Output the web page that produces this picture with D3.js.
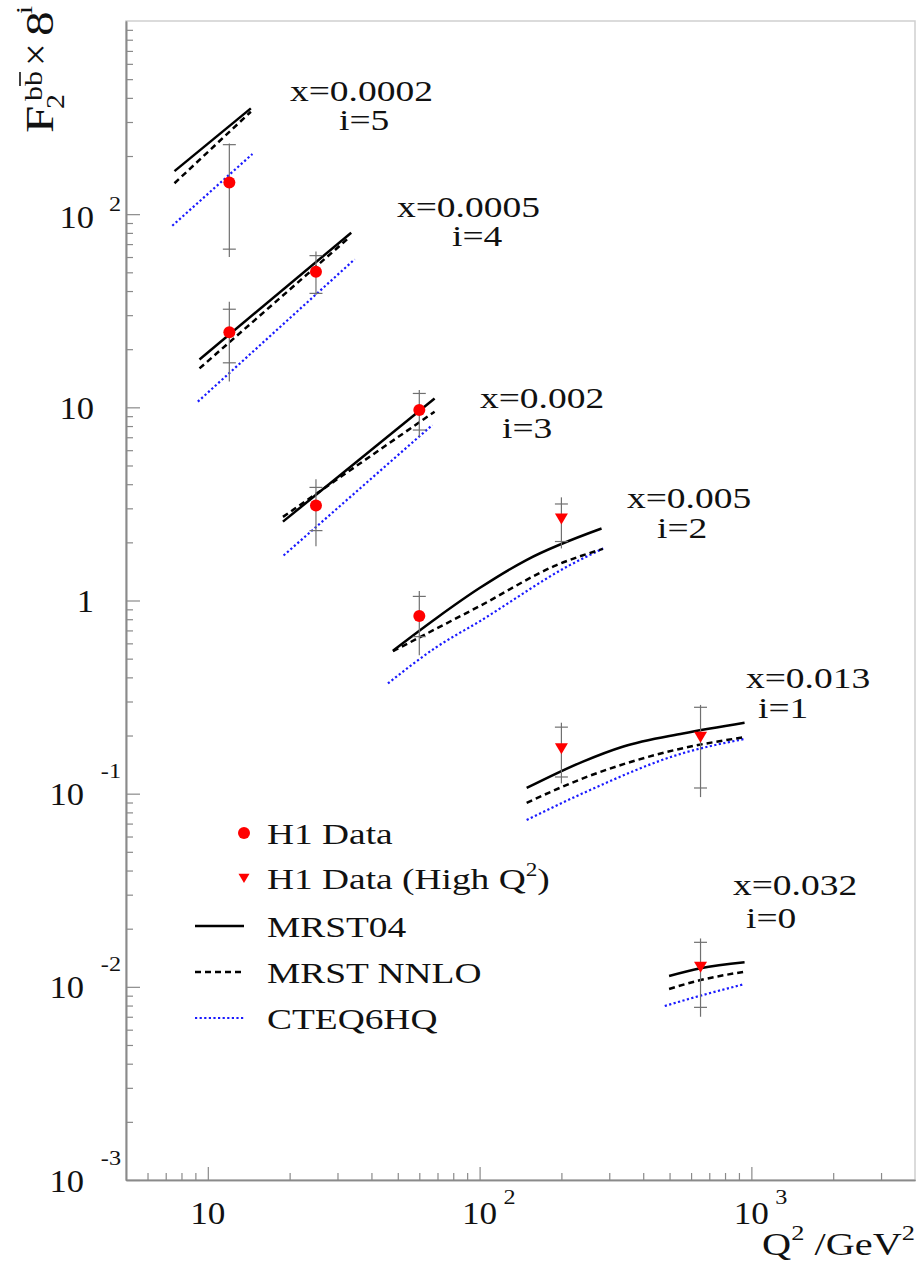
<!DOCTYPE html>
<html>
<head>
<meta charset="utf-8">
<script src="https://cdn.jsdelivr.net/npm/d3@7"></script>
<style>
  body { margin: 0; background: #fff; }
  svg text { font-family: "Liberation Serif", "Times New Roman", serif; fill: #111; }
</style>
</head>
<body>
<svg id="chart" width="921" height="1263"></svg>
<script>
// ---- data (F2bb x 8^i vs Q^2) ----
const binX = ["0.0002", "0.0005", "0.002", "0.005", "0.013", "0.032"];
const binI = [5, 4, 3, 2, 1, 0];

// H1 data (circles)
const h1Q2     = [12, 12, 25, 25, 60, 60];
const h1Val    = [146, 24.5, 50.4, 3.10, 9.69, 0.832];
const h1StatHi = [229, 32.2, 61, 3.85, 11.8, 1.05];
const h1StatLo = [65.9, 17.0, 38.9, 2.30, 7.63, 0.65];
const h1TotHi  = [232, 35.2, 64, 4.24, 12.3, 1.12];
const h1TotLo  = [60, 13.6, 38.1, 1.91, 7.04, 0.52];

// H1 data, high Q^2 (triangles)
const hiQ2     = [200, 200, 650, 650];
const hiVal    = [2.66, 0.172, 0.197, 0.0127];
const hiStatHi = [3.16, 0.221, 0.280, 0.0170];
const hiStatLo = [2.02, 0.122, 0.107, 0.00783];
const hiTotHi  = [3.42, 0.233, 0.288, 0.0178];
const hiTotLo  = [1.86, 0.113, 0.096, 0.0070];

// theory curves, one [Q2, value] list per x bin (i = 5..0)
const mrst04 = [
    [[7.54, 167], [14.4, 353]],
    [[9.32, 17.7], [33.7, 80.2]],
    [[18.9, 2.56], [68.3, 11.1]],
    [[48, 0.550], [69.3, 0.81], [100, 1.16], [148.6, 1.62], [281, 2.36]],
    [[149, 0.107], [240, 0.1466], [336, 0.175], [560, 0.205], [944, 0.233]],
    [[498, 0.01137], [650, 0.01247], [944, 0.01339]]
];
const mrstNnlo = [
    [[7.54, 144.5], [14.4, 339]],
    [[9.32, 15.9], [33.2, 75.9]],
    [[18.9, 2.71], [68.3, 9.49]],
    [[48, 0.546], [69.3, 0.715], [100, 0.935], [191, 1.52], [284, 1.85]],
    [[149, 0.0897], [240, 0.120], [560, 0.172], [944, 0.196]],
    [[498, 0.00975], [650, 0.01084], [944, 0.01197]]
];
const cteq6hq = [
    [[7.4, 87.1], [14.6, 205]],
    [[9.19, 10.7], [34.7, 58.4]],
    [[19.0, 1.71], [67, 8.10]],
    [[46, 0.372], [69.3, 0.573], [100, 0.78], [214, 1.52], [285, 1.86]],
    [[149, 0.0731], [240, 0.1005], [560, 0.162], [944, 0.192]],
    [[480, 0.00796], [650, 0.0090], [935, 0.0103]]
];

// tick labels
const yTickVals = [100, 10, 1, 0.1, 0.01, 0.001];
const yTickBase = ["10", "10", "1", "10", "10", "10"];
const yTickExp  = ["2", "", "", "-1", "-2", "-3"];
const xTickVals = [10, 100, 1000];
const xTickExp  = ["", "2", "3"];

const legendLabels = ["H1 Data", "H1 Data (High Q^{2})", "MRST04", "MRST NNLO", "CTEQ6HQ"];

// ---- layout ----
const W = 921, H = 1263;
const L = 126, R = 915, T = 21, B = 1180;
const svg = d3.select("#chart");

const x = d3.scaleLog().domain([5, 4000]).range([L, R]);
const y = d3.scaleLog().domain([1e-3, 1e3]).range([B, T]);

svg.append("rect").attr("width", W).attr("height", H).attr("fill", "#fff");

// text helper: the original uses a wide serif, so stretch horizontally
function stext(sel, px, py, size, sx, anchor) {
    return sel.append("text")
        .attr("transform", `translate(${px},${py}) scale(${sx},1)`)
        .attr("text-anchor", anchor || "start")
        .style("font-size", size + "px");
}
// "a^{b}" -> tspans with raised superscripts
function rich(t, str, supSize, rise) {
    const parts = str.split(/\^\{([^}]*)\}/);
    let raised = false;
    parts.forEach((p, i) => {
        if (p === "") return;
        const sup = i % 2 === 1;
        const ts = t.append("tspan").text(p);
        if (sup) {
            ts.attr("dy", -rise).style("font-size", supSize + "px");
            raised = true;
        } else if (raised) {
            ts.attr("dy", rise);
            raised = false;
        }
    });
    return t;
}

// frame
svg.append("rect")
    .attr("x", L).attr("y", T).attr("width", R - L).attr("height", B - T)
    .attr("fill", "none").attr("stroke", "#cfcfcf").attr("stroke-width", 1.5);

function minors(lo, hi) {
    const out = [];
    for (let d = 1e-3; d < 1e4; d *= 10)
        for (let k = 2; k < 10; k++) {
            const v = k * d;
            if (v > lo * 1.001 && v < hi * 0.999) out.push(v);
        }
    return out;
}

// axes (ticks point inward)
const yMajor = [1e-3, 1e-2, 1e-1, 1, 10, 100];
const yAxisG = svg.append("g").attr("transform", `translate(${L},0)`);
yAxisG.append("g").call(d3.axisLeft(y).tickValues(yMajor).tickSize(-14).tickSizeOuter(0).tickFormat(""));
yAxisG.append("g").call(d3.axisLeft(y).tickValues(minors(1e-3, 1e3)).tickSize(-7).tickSizeOuter(0).tickFormat(""));

const xMajor = [10, 100, 1000];
const xAxisG = svg.append("g").attr("transform", `translate(0,${B})`);
xAxisG.append("g").call(d3.axisBottom(x).tickValues(xMajor).tickSize(-13).tickSizeOuter(0).tickFormat(""));
xAxisG.append("g").call(d3.axisBottom(x).tickValues(minors(5, 4000)).tickSize(-7).tickSizeOuter(0).tickFormat(""));

svg.selectAll(".domain").attr("stroke", "#8a8a8a").attr("stroke-width", 1.6);
svg.selectAll(".tick line").attr("stroke", "#8a8a8a").attr("stroke-width", 1.2);

// y tick labels
yTickVals.forEach((v, i) => {
    const neg = yTickExp[i].startsWith("-");
    const yy = y(v);
    if (yTickExp[i]) {
        stext(svg, 121, yy + (neg ? -15.5 : -3.5), 22, 1.1, "end").text(yTickExp[i]);
        stext(svg, neg ? 84 : 94, yy + (neg ? 11.5 : 13.5), 32, 1.08, "end").text(yTickBase[i]);
    } else {
        stext(svg, 94, yy + 11.5, 32, 1.08, "end").text(yTickBase[i]);
    }
});

// x tick labels
xTickVals.forEach((v, i) => {
    stext(svg, x(v), 1224, 32, 1.1, "middle").text("10");
    if (xTickExp[i])
        stext(svg, x(v) + 24, 1204, 22, 1.1, "start").text(xTickExp[i]);
});

// axis titles
rich(stext(svg, 915, 1255, 32, 1.26, "end"), "Q^{2} /GeV^{2}", 21, 15);

const yt = svg.append("g").attr("transform", "translate(53,133) rotate(-90)");
stext(yt, 0, 0, 41, 1.2).text("F");
stext(yt, 24, 11, 25, 1.2).text("2");
stext(yt, 32, -11, 25, 1.2).text("bb");
yt.append("line").attr("x1", 47).attr("x2", 61).attr("y1", -33).attr("y2", -33)
    .attr("stroke", "#111").attr("stroke-width", 1.6);
stext(yt, 67, -4, 40, 1.0).text("\u00d7");
stext(yt, 97, 0, 41, 1.2).text("8");
stext(yt, 119, -21, 24, 1.2).text("i");

// theory curves
const line = d3.line()
    .x(d => x(d[0]))
    .y(d => y(d[1]))
    .curve(d3.curveMonotoneX);

const models = [
    { curves: cteq6hq, color: "#1a1aff", width: 2.2, dash: "2.2,2.4" },
    { curves: mrstNnlo, color: "#000", width: 2.5, dash: "6,4" },
    { curves: mrst04, color: "#000", width: 2.5, dash: null }
];
models.forEach(m => {
    svg.append("g").selectAll("path")
        .data(m.curves)
        .join("path")
        .attr("d", line)
        .attr("fill", "none")
        .attr("stroke", m.color)
        .attr("stroke-width", m.width)
        .attr("stroke-dasharray", m.dash);
});

// error bars: full line = total, ticks = statistical
function errorBars(q2, statLo, statHi, totLo, totHi) {
    const g = svg.append("g").attr("stroke", "#707070").attr("stroke-width", 1.2);
    q2.forEach((q, i) => {
        const cx = x(q);
        g.append("line").attr("x1", cx).attr("x2", cx).attr("y1", y(totLo[i])).attr("y2", y(totHi[i]));
        [statLo[i], statHi[i]].forEach(s =>
            g.append("line").attr("x1", cx - 6.5).attr("x2", cx + 6.5).attr("y1", y(s)).attr("y2", y(s)));
    });
}
errorBars(h1Q2, h1StatLo, h1StatHi, h1TotLo, h1TotHi);
errorBars(hiQ2, hiStatLo, hiStatHi, hiTotLo, hiTotHi);

const triDown = "M-6.5,-5L6.5,-5L0,6Z";

svg.append("g").selectAll("circle")
    .data(h1Q2.map((q, i) => [q, h1Val[i]]))
    .join("circle")
    .attr("cx", d => x(d[0])).attr("cy", d => y(d[1]))
    .attr("r", 6).attr("fill", "#ff0000");

svg.append("g").selectAll("path")
    .data(hiQ2.map((q, i) => [q, hiVal[i]]))
    .join("path")
    .attr("transform", d => `translate(${x(d[0])},${y(d[1])})`)
    .attr("d", triDown).attr("fill", "#ff0000");

// bin annotations (pixel layout of the text blocks)
const annot = [
    { tx: 290, ty: 101, ix: 339, iy: 130 },
    { tx: 397, ty: 217, ix: 452, iy: 246 },
    { tx: 480, ty: 408, ix: 502, iy: 438 },
    { tx: 627, ty: 508, ix: 657, iy: 538 },
    { tx: 746, ty: 688, ix: 758, iy: 718 },
    { tx: 733, ty: 895, ix: 746, iy: 928 }
];
binX.forEach((bx, k) => {
    const a = annot[k];
    stext(svg, a.tx, a.ty, 30, 1.25).text("x=" + bx);
    stext(svg, a.ix, a.iy, 30, 1.25).text("i=" + binI[k]);
});

// legend
const legY = [833, 878, 926, 972, 1018];
const lg = svg.append("g");
lg.append("circle").attr("cx", 244).attr("cy", legY[0]).attr("r", 6).attr("fill", "#ff0000");
lg.append("path").attr("transform", `translate(244,${legY[1]}) scale(0.85)`).attr("d", triDown).attr("fill", "#ff0000");
models.slice().reverse().forEach((m, k) => {
    lg.append("line")
        .attr("x1", 195).attr("x2", 244)
        .attr("y1", legY[k + 2]).attr("y2", legY[k + 2])
        .attr("stroke", m.color).attr("stroke-width", m.width)
        .attr("stroke-dasharray", m.dash);
});
legendLabels.forEach((lab, k) => {
    rich(stext(lg, 267, legY[k] + 10.5, 29, 1.29), lab, 18, 13);
});
</script>
</body>
</html>
